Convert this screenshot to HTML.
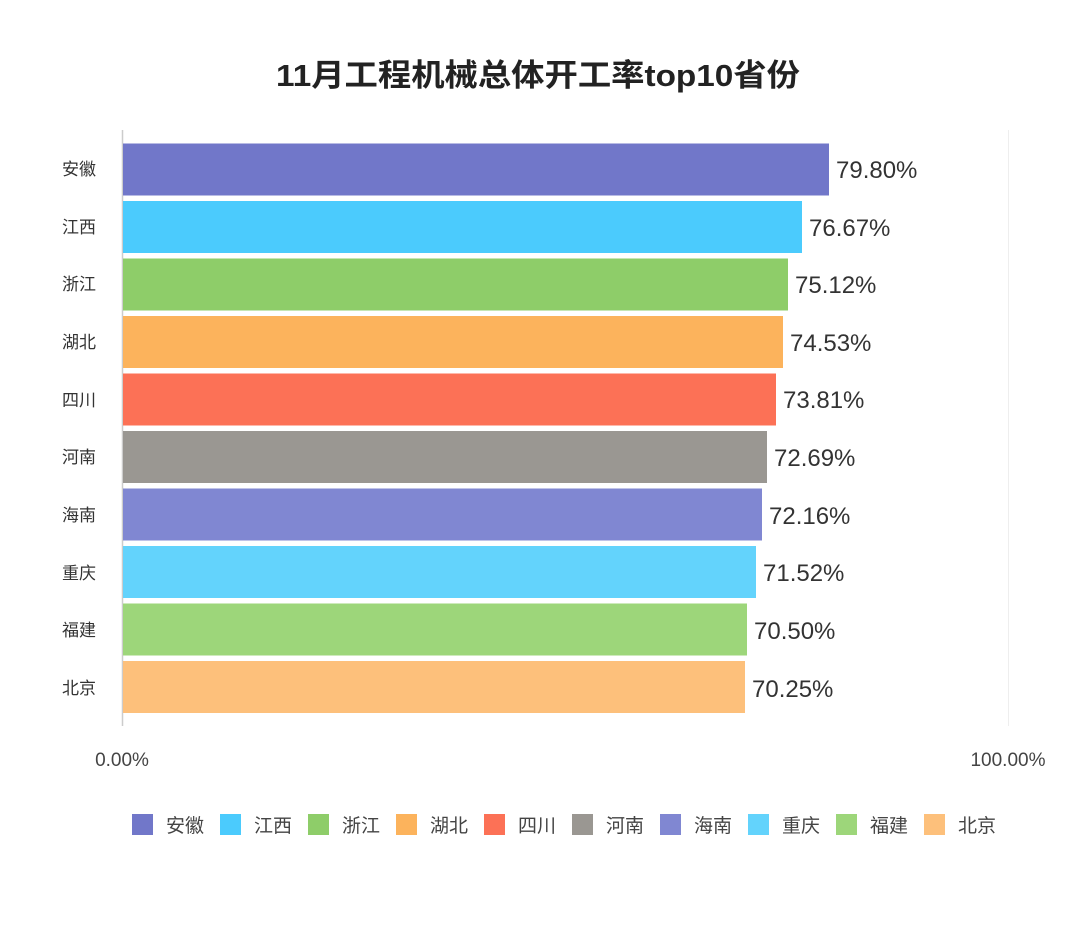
<!DOCTYPE html>
<html><head><meta charset="utf-8"><style>body{margin:0;background:#fff}svg{display:block}text{font-family:"Liberation Sans","Noto Sans CJK SC",sans-serif}</style></head><body>
<svg width="1080" height="930" viewBox="0 0 1080 930" xmlns="http://www.w3.org/2000/svg">
<rect width="1080" height="930" fill="#fff"/>
<text x="538" y="86" text-anchor="middle" font-size="31" font-weight="bold" fill="#222" textLength="524" lengthAdjust="spacingAndGlyphs">11月工程机械总体开工率top10省份</text>
<line x1="122.5" y1="130" x2="122.5" y2="726" stroke="#ccc" stroke-width="1.5"/>
<line x1="1008.5" y1="130" x2="1008.5" y2="726" stroke="#eee" stroke-width="1"/>
<g font-size="17" fill="#333" text-anchor="end">
<text x="96" y="175">安徽</text><text x="96" y="233">江西</text><text x="96" y="290">浙江</text><text x="96" y="348">湖北</text><text x="96" y="406">四川</text><text x="96" y="463">河南</text><text x="96" y="521">海南</text><text x="96" y="579">重庆</text><text x="96" y="636">福建</text><text x="96" y="694">北京</text>
</g>
<g>
<rect x="123" y="143.5" width="706" height="52" fill="#7177c9"/>
<rect x="123" y="201" width="679" height="52" fill="#4bcbfd"/>
<rect x="123" y="258.5" width="665" height="52" fill="#8ecd69"/>
<rect x="123" y="316" width="660" height="52" fill="#fcb35c"/>
<rect x="123" y="373.5" width="653" height="52" fill="#fc7156"/>
<rect x="123" y="431" width="644" height="52" fill="#9a9792"/>
<rect x="123" y="488.5" width="639" height="52" fill="#8087d2"/>
<rect x="123" y="546" width="633" height="52" fill="#63d3fc"/>
<rect x="123" y="603.5" width="624" height="52" fill="#9dd67a"/>
<rect x="123" y="661" width="622" height="52" fill="#fdc07b"/>
</g>
<g font-size="24" fill="#333">
<text x="836" y="178">79.80%</text><text x="809" y="236">76.67%</text><text x="795" y="293">75.12%</text><text x="790" y="351">74.53%</text><text x="783" y="408">73.81%</text><text x="774" y="466">72.69%</text><text x="769" y="524">72.16%</text><text x="763" y="581">71.52%</text><text x="754" y="639">70.50%</text><text x="752" y="697">70.25%</text>
</g>
<g font-size="19" fill="#444" text-anchor="middle">
<text x="122" y="766">0.00%</text><text x="1008" y="766">100.00%</text>
</g>
<g font-size="19" fill="#444">
<rect x="132" y="814" width="21" height="21" fill="#7177c9"/><text x="166" y="832">安徽</text>
<rect x="220" y="814" width="21" height="21" fill="#4bcbfd"/><text x="254" y="832">江西</text>
<rect x="308" y="814" width="21" height="21" fill="#8ecd69"/><text x="342" y="832">浙江</text>
<rect x="396" y="814" width="21" height="21" fill="#fcb35c"/><text x="430" y="832">湖北</text>
<rect x="484" y="814" width="21" height="21" fill="#fc7156"/><text x="518" y="832">四川</text>
<rect x="572" y="814" width="21" height="21" fill="#9a9792"/><text x="606" y="832">河南</text>
<rect x="660" y="814" width="21" height="21" fill="#8087d2"/><text x="694" y="832">海南</text>
<rect x="748" y="814" width="21" height="21" fill="#63d3fc"/><text x="782" y="832">重庆</text>
<rect x="836" y="814" width="21" height="21" fill="#9dd67a"/><text x="870" y="832">福建</text>
<rect x="924" y="814" width="21" height="21" fill="#fdc07b"/><text x="958" y="832">北京</text>
</g>
</svg>
</body></html>
